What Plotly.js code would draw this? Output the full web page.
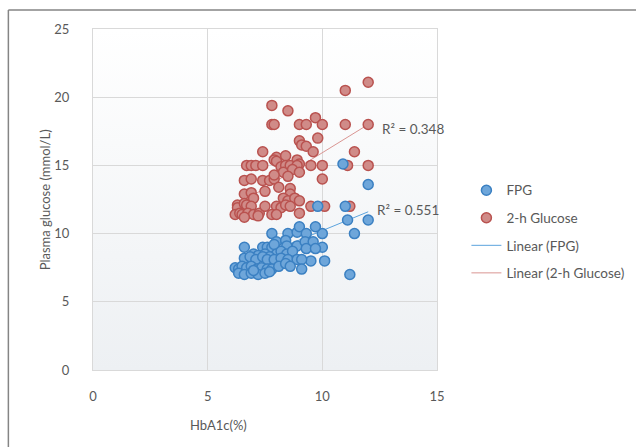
<!DOCTYPE html>
<html>
<head>
<meta charset="utf-8">
<script src="https://cdn.plot.ly/plotly-3.0.1.min.js"></script>
<style>
  html, body { margin: 0; padding: 0; background: #ffffff; }
  #chart { width: 636px; height: 447px; }
</style>
</head>
<body>
<div id="chart"></div>
<script>
// HbA1c (%) against fasting plasma glucose (FPG, mmol/L)
const fpgHbA1c = [
  10.9, 12.0, 11.0, 9.8, 11.1, 12.0, 11.4, 10.0, 9.7, 11.2, 10.0, 10.1, 9.5,
  7.8, 8.5, 8.9, 9.0, 9.3,
  8.0, 8.4, 8.45, 8.9, 9.25, 9.6, 9.3, 9.7,
  6.6, 7.4, 7.6, 7.8, 7.9,
  8.0, 8.2, 8.45, 8.7, 7.0, 7.2, 7.5, 7.7,
  6.6, 6.85, 7.1, 7.4, 7.6, 7.9, 8.2, 8.5, 8.9, 9.1,
  6.2, 6.35, 6.5, 6.7, 6.9, 7.15, 7.35, 7.6, 7.8, 8.1, 8.4, 8.6, 9.1,
  6.35, 6.6, 6.9, 7.2, 7.5, 7.0, 7.7
];
const fpgValues = [
  15.1, 13.6, 12.0, 12.0, 11.0, 11.0, 10.0, 10.0, 10.5, 7.0, 9.0, 8.0, 8.0,
  10.0, 10.0, 10.1, 10.5, 10.0,
  9.4, 9.5, 9.1, 9.1, 9.4, 9.4, 8.9, 8.9,
  9.0, 9.0, 9.0, 9.0, 9.2,
  8.5, 8.7, 8.5, 8.7, 8.5, 8.4, 8.5, 8.3,
  8.2, 8.3, 8.1, 8.3, 8.1, 8.1, 8.2, 8.1, 8.1, 8.1,
  7.5, 7.4, 7.6, 7.5, 7.6, 7.4, 7.5, 7.4, 7.4, 7.6, 7.8, 7.6, 7.4,
  7.1, 7.0, 7.1, 7.0, 7.1, 7.3, 7.2
];

// HbA1c (%) against 2-h plasma glucose (mmol/L)
const ogttHbA1c = [
  12.0, 11.0, 7.8, 8.5, 9.7,
  7.8, 7.9, 9.0, 9.3, 10.0, 11.0, 12.0,
  9.8, 9.0, 9.1, 9.3, 9.6, 7.4, 11.4,
  8.0, 8.4, 7.9, 8.0, 8.9, 9.0,
  6.7, 6.9, 7.1, 7.4, 8.2, 8.4, 8.6, 8.9, 9.5, 10.0, 11.1, 12.0,
  8.3, 8.7, 9.0, 10.0,
  6.6, 6.9, 7.4, 7.7, 7.9, 8.1, 7.9, 8.5,
  6.6, 6.9, 7.0, 7.5, 8.6, 8.6, 8.3, 8.5, 8.8, 9.0,
  6.3, 6.3, 6.6, 6.7, 6.9,
  6.2, 6.4, 6.5, 6.75, 7.0, 7.25,
  7.5, 8.0, 8.2, 8.4, 8.6, 9.0,
  7.8, 8.0, 9.5, 10.1, 11.2,
  6.6, 7.2
];
const ogttValues = [
  21.1, 20.5, 19.4, 19.0, 18.5,
  18.0, 18.0, 18.0, 18.0, 18.0, 18.0, 18.0,
  17.0, 16.8, 16.5, 16.4, 16.0, 16.0, 16.0,
  15.6, 15.7, 15.4, 15.3, 15.4, 15.1,
  15.0, 15.0, 15.0, 15.0, 14.9, 15.0, 15.0, 15.0, 15.0, 15.0, 15.0, 15.0,
  14.5, 14.7, 14.5, 14.0,
  13.9, 14.0, 13.9, 13.9, 14.0, 13.4, 14.3, 14.2,
  12.9, 13.0, 12.6, 13.1, 13.3, 12.9, 12.6, 12.4, 12.6, 12.4,
  12.1, 11.9, 12.2, 12.1, 12.0,
  11.4, 11.5, 11.4, 11.5, 11.4, 11.5,
  12.0, 12.0, 11.9, 12.1, 12.0, 11.5,
  11.4, 11.4, 12.0, 12.0, 12.0,
  11.2, 11.3
];

// Linear trendline end points over the HbA1c range
const fpgTrendX = [6.2, 12.0];
const fpgTrendY = [7.6, 11.6];
const ogttTrendX = [6.2, 12.0];
const ogttTrendY = [12.0, 18.0];

const xTickValues = [0, 5, 10, 15];
const yTickValues = [0, 5, 10, 15, 20, 25];
const r2Labels = ['R\u00b2 = 0.348', 'R\u00b2 = 0.551'];

const textColor = '#595959';
const font = 'Lato, "Open Sans", sans-serif';

// soft top-to-bottom shading for the plotting area
const bgSvg = "<svg xmlns='http://www.w3.org/2000/svg' width='10' height='100' preserveAspectRatio='none'>" +
  "<defs><linearGradient id='g' x1='0' y1='0' x2='0' y2='1'>" +
  "<stop offset='0' stop-color='#ffffff'/><stop offset='1' stop-color='#edf0f3'/>" +
  "</linearGradient></defs><rect width='10' height='100' fill='url(#g)'/></svg>";
const bgSource = 'data:image/svg+xml;base64,' + btoa(bgSvg);

const traces = [
  {
    x: fpgTrendX, y: fpgTrendY, mode: 'lines', name: 'Linear (FPG)',
    line: { color: '#5ba3dd', width: 1 }, legendrank: 3, legendgroup: 'c', hoverinfo: 'skip'
  },
  {
    x: ogttTrendX, y: ogttTrendY, mode: 'lines', name: 'Linear (2-h Glucose)',
    line: { color: '#d99592', width: 1 }, legendrank: 4, legendgroup: 'd', hoverinfo: 'skip'
  },
  {
    x: ogttHbA1c, y: ogttValues, mode: 'markers', name: '2-h Glucose',
    marker: { size: 10, color: '#d08b88', line: { color: '#b9524f', width: 1.5 } },
    legendrank: 2, legendgroup: 'b'
  },
  {
    x: fpgHbA1c, y: fpgValues, mode: 'markers', name: 'FPG',
    marker: { size: 10, color: '#6ea6da', line: { color: '#3b80c2', width: 1.5 } },
    legendrank: 1, legendgroup: 'a'
  }
];

const layout = {
  width: 636,
  height: 447,
  margin: { l: 93, r: 199, t: 29, b: 77, autoexpand: false },
  paper_bgcolor: '#ffffff',
  plot_bgcolor: 'rgba(0,0,0,0)',
  font: { family: font, size: 13, color: textColor },
  showlegend: true,
  legend: {
    x: 1.0855, y: 0.572, xanchor: 'left', yanchor: 'top',
    font: { family: font, size: 13.5, color: textColor },
    tracegroupgap: 7, bgcolor: 'rgba(0,0,0,0)'
  },
  xaxis: {
    range: [0, 15], tickvals: xTickValues, ticktext: xTickValues.map(String),
    showgrid: true, gridcolor: '#d9d9d9', gridwidth: 1,
    zeroline: false, showline: true, linecolor: '#d9d9d9', mirror: true,
    ticks: '', ticklabelstandoff: 14, fixedrange: true,
    tickfont: { family: font, size: 13, color: textColor }
  },
  yaxis: {
    range: [0, 25], tickvals: yTickValues, ticktext: yTickValues.map(String),
    showgrid: true, gridcolor: '#d9d9d9', gridwidth: 1,
    zeroline: false, showline: true, linecolor: '#d9d9d9', mirror: true,
    ticks: '', ticklabelstandoff: 20, fixedrange: true,
    tickfont: { family: font, size: 13, color: textColor }
  },
  images: [{
    source: bgSource, xref: 'paper', yref: 'paper', x: 0, y: 1,
    sizex: 1, sizey: 1, xanchor: 'left', yanchor: 'top',
    sizing: 'stretch', layer: 'below'
  }],
  shapes: [
    // outer chart frame: left and top edges
    {
      type: 'line', xref: 'paper', yref: 'paper',
      x0: -0.246, x1: -0.246, y0: 1.0557, y1: -0.4,
      line: { color: '#858585', width: 1.5 }, layer: 'below'
    },
    {
      type: 'line', xref: 'paper', yref: 'paper',
      x0: -0.246, x1: 1.7, y0: 1.0557, y1: 1.0557,
      line: { color: '#858585', width: 1.5 }, layer: 'below'
    }
  ],
  annotations: [
    {
      text: r2Labels[0], x: 12.5, y: 17.7, xref: 'x', yref: 'y',
      xanchor: 'left', yanchor: 'middle', showarrow: false,
      font: { family: font, size: 13.5, color: textColor }
    },
    {
      text: r2Labels[1], x: 12.3, y: 11.75, xref: 'x', yref: 'y',
      xanchor: 'left', yanchor: 'middle', showarrow: false,
      font: { family: font, size: 13.5, color: textColor }
    },
    {
      text: 'HbA1c(%)', xref: 'paper', yref: 'paper', x: 0.365, y: -0.16,
      xanchor: 'center', yanchor: 'middle', showarrow: false,
      font: { family: font, size: 13, color: textColor }
    },
    {
      text: 'Plasma glucose (mmol/L)', xref: 'paper', yref: 'paper', x: -0.14, y: 0.5,
      xanchor: 'center', yanchor: 'middle', showarrow: false, textangle: -90,
      font: { family: font, size: 13, color: textColor }
    }
  ]
};

Plotly.newPlot('chart', traces, layout, { displayModeBar: false, staticPlot: true });
</script>
</body>
</html>
